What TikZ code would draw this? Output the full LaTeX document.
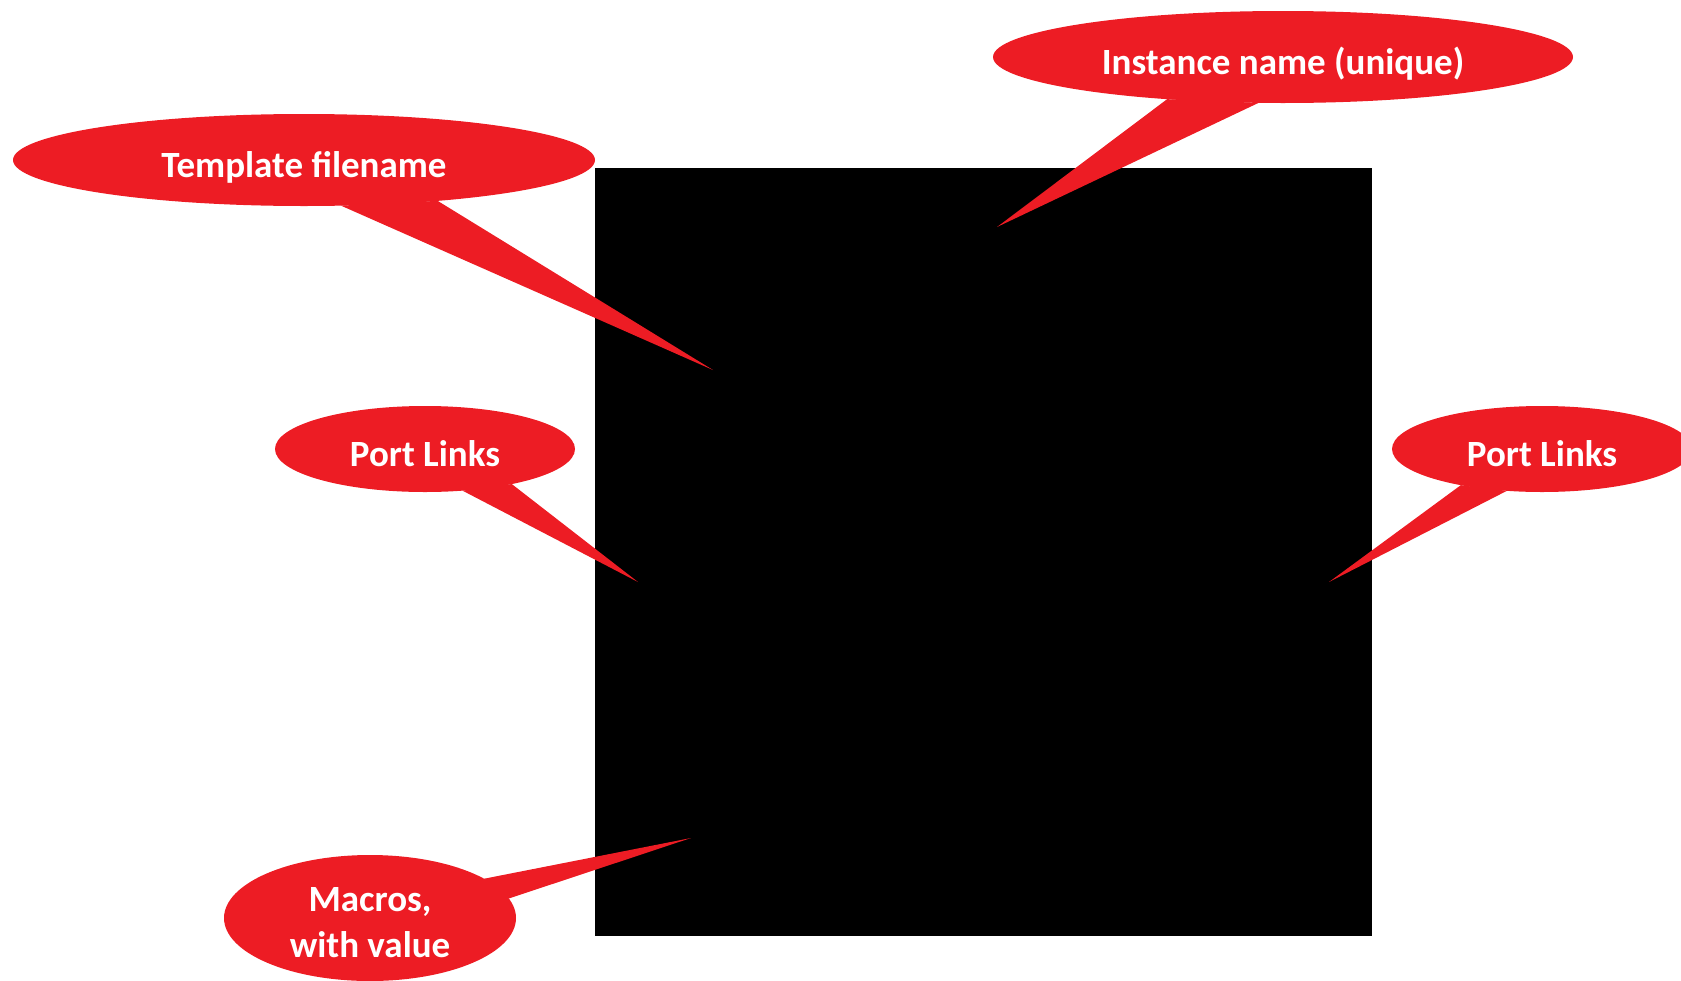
\documentclass[tikz,border=0pt]{standalone}
\usepackage{fontspec}
\setmainfont{Carlito}
\usepackage{tikz}
\usetikzlibrary{shapes.geometric,calc}

\definecolor{calloutred}{RGB}{237,28,36}
\tikzset{
  callout/.style={ellipse, fill=calloutred, text=white, inner sep=0pt, outer sep=0pt,
    align=center, font=\fontsize{37}{46}\selectfont\bfseries},
  oneline/.style={text height=40pt, text depth=6pt}
}

\begin{document}
\begin{tikzpicture}[x=1pt, y=-1pt]
\useasboundingbox (0,0) rectangle (1681,980);

% the block itself
\node[fill=black, minimum width=777pt, minimum height=768pt, inner sep=0pt, outer sep=0pt, anchor=north west] (block) at (595,168) {};

\coordinate (tftip) at (713,370);
\coordinate (insttip) at (997,227);
\coordinate (pltip) at (638,582);
\coordinate (prtip) at (1329,582);
\coordinate (mactip) at (691,838);

\node[callout, oneline, minimum width=582pt, minimum height=92pt] (tf) at (304,160) {Template filename};
\node[callout, oneline, minimum width=580pt, minimum height=92pt] (inst) at (1283,57) {Instance name (unique)};
\node[callout, oneline, minimum width=300pt, minimum height=86pt] (pl) at (425,449) {Port Links};
\node[callout, oneline, minimum width=300pt, minimum height=86pt] (pr) at (1542,449) {Port Links};
\node[callout, text height=79pt, minimum width=292pt, minimum height=126pt] (mac) at (370,918) {Macros,\\with value};

\foreach \n/\a/\b in {tf/-51/-17.5, inst/-160.6/-118.9, pl/-48.7/-22.9, pr/-156.8/-130.6, mac/19.5/8.5}
{ \fill[calloutred] (\n.\a) -- (\n tip) -- (\n.\b) -- cycle; }

\end{tikzpicture}
\end{document}
